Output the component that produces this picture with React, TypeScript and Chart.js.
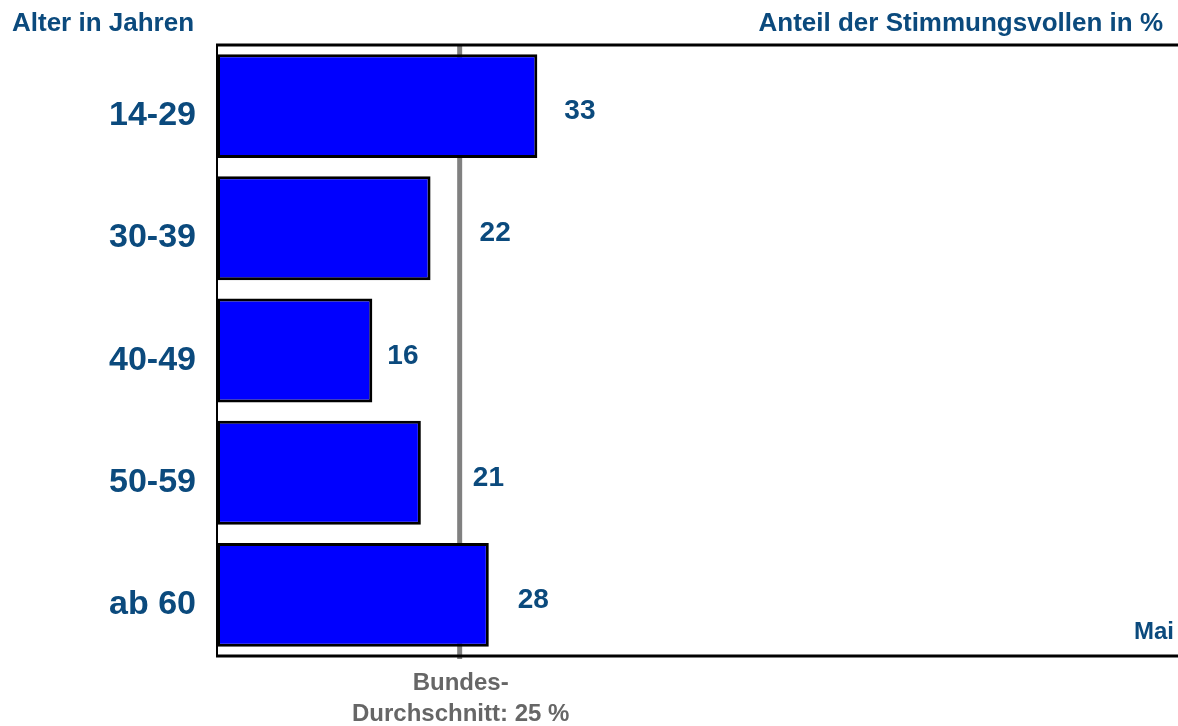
import React, { useEffect, useRef } from "react";
import { Chart, registerables } from "chart.js";

Chart.register(...registerables);

const categories = ["14-29", "30-39", "40-49", "50-59", "ab 60"];
const values = [33, 22, 16, 21, 28];
const averageValue = 25;
const averageLabelLines = ["Bundes-", "Durchschnitt: 25 %"];
const leftTitle = "Alter in Jahren";
const rightTitle = "Anteil der Stimmungsvollen in %";
const periodLabel = "Mai";
const xMax = 99;

// label horizontal gaps (px) from bar end, style only
const labelGaps = [27, 49, 15, 52, 29];

const FONT = '"Liberation Sans", Arial, Helvetica, sans-serif';
const BLUE_TEXT = "#0b4a7d";
const GREY_TEXT = "#666666";

export default function App() {
  const canvasRef = useRef<HTMLCanvasElement | null>(null);

  useEffect(() => {
    document.body.style.margin = "0";
    const canvas = canvasRef.current;
    if (!canvas) return;

    const decorPlugin = {
      id: "decor",
      beforeDatasetsDraw(chart: any) {
        const { ctx, chartArea, scales } = chart;
        const x = scales.x.getPixelForValue(averageValue);
        ctx.save();
        ctx.strokeStyle = "#808080";
        ctx.lineWidth = 5;
        ctx.beginPath();
        ctx.moveTo(x, chartArea.top);
        ctx.lineTo(x, chartArea.bottom + 3);
        ctx.stroke();
        ctx.restore();
      },
      afterDatasetsDraw(chart: any) {
        const { ctx, chartArea, scales } = chart;
        const xs = scales.x;
        const ys = scales.y;
        ctx.save();
        // axes lines
        ctx.strokeStyle = "#000000";
        ctx.lineWidth = 3;
        ctx.beginPath();
        ctx.moveTo(chartArea.left - 1, chartArea.top);
        ctx.lineTo(chartArea.right + 10, chartArea.top);
        ctx.stroke();
        ctx.beginPath();
        ctx.moveTo(chartArea.left - 1, chartArea.bottom);
        ctx.lineTo(chartArea.right + 10, chartArea.bottom);
        ctx.stroke();
        ctx.lineWidth = 2;
        ctx.beginPath();
        ctx.moveTo(chartArea.left, chartArea.top);
        ctx.lineTo(chartArea.left, chartArea.bottom);
        ctx.stroke();

        // category labels
        ctx.fillStyle = BLUE_TEXT;
        ctx.font = `bold 34px ${FONT}`;
        ctx.textAlign = "right";
        ctx.textBaseline = "alphabetic";
        categories.forEach((c, i) => {
          const y = ys.getPixelForValue(i);
          ctx.fillText(c, chartArea.left - 21, y + 19);
        });

        // value labels
        ctx.font = `bold 28px ${FONT}`;
        ctx.textAlign = "left";
        values.forEach((v, i) => {
          const y = ys.getPixelForValue(i);
          const x = xs.getPixelForValue(v);
          ctx.fillText(String(v), x + labelGaps[i], y + 13);
        });

        // titles
        ctx.font = `bold 26px ${FONT}`;
        ctx.textAlign = "left";
        ctx.fillText(leftTitle, 12, 31);
        ctx.textAlign = "right";
        ctx.fillText(rightTitle, 1163, 31);

        ctx.font = `bold 24px ${FONT}`;
        ctx.textAlign = "right";
        ctx.fillText(periodLabel, 1174, 639);

        // average label
        ctx.fillStyle = GREY_TEXT;
        ctx.font = `bold 24px ${FONT}`;
        ctx.textAlign = "center";
        const ax = xs.getPixelForValue(averageValue);
        ctx.fillText(averageLabelLines[0], ax + 1, 690);
        ctx.fillText(averageLabelLines[1], ax + 1, 721);
        ctx.restore();
      },
    };

    const chart = new Chart(canvas, {
      type: "bar",
      data: {
        labels: categories,
        datasets: [
          {
            data: values,
            backgroundColor: "#0000ff",
            borderColor: "#000000",
            borderWidth: 3,
            borderSkipped: false,
            barPercentage: 0.85,
            categoryPercentage: 1,
          },
        ],
      },
      options: {
        indexAxis: "y",
        animation: false,
        responsive: true,
        maintainAspectRatio: false,
        layout: { padding: { left: 217, right: 0, top: 45, bottom: 70 } },
        plugins: {
          legend: { display: false },
          tooltip: { enabled: false },
          title: { display: false },
        },
        scales: {
          x: { display: false, min: 0, max: xMax },
          y: { display: false },
        },
      },
      plugins: [decorPlugin],
    });

    return () => chart.destroy();
  }, []);

  return (
    <div style={{ width: 1178, height: 726, position: "relative", background: "#ffffff" }}>
      <canvas ref={canvasRef} />
    </div>
  );
}
